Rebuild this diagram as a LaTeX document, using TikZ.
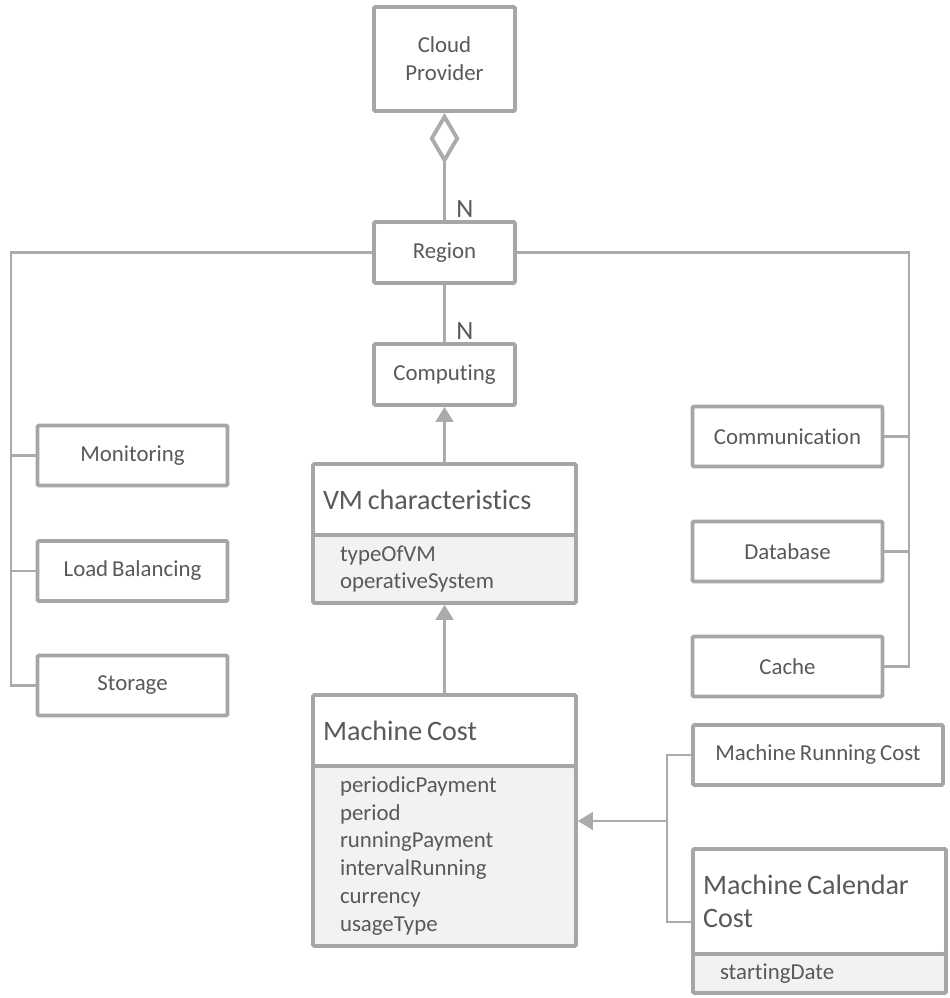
\documentclass[tikz,border=0pt]{standalone}
\usepackage{fontspec}
\setmainfont{Carlito}[Ligatures=NoCommon, WordSpace=0.75]
\usetikzlibrary{arrows.meta, positioning}
\definecolor{boxgray}{HTML}{A6A6A6}
\definecolor{linegray}{HTML}{ABABAB}
\definecolor{txtgray}{HTML}{595959}
\definecolor{attrfill}{HTML}{F2F2F2}
\tikzset{
  entity/.style={
    draw=boxgray,
    line width=2.2pt,
    rounded corners=0.8pt,
    fill=white,
    text=txtgray,
    align=center,
    font=\fontsize{13}{15.9}\selectfont,
    minimum height=1.22cm,
  },
  smallbox/.style={
    entity,
    minimum width=2.82cm
  },
  sidebox/.style={
    entity,
    minimum width=3.8cm,
    minimum height=1.2cm
  },
  classhead/.style={
    entity,
    outer sep=0pt,
    align=flush left,
    inner xsep=0.2cm,
    text width=#1,
    font=\fontsize{16}{19}\selectfont
  },
  classattr/.style={
    entity,
    outer sep=0pt,
    fill=attrfill,
    align=flush left,
    inner xsep=0.54cm,
    text width=#1
  },
  link/.style={
    draw=linegray,
    line width=1.5pt
  },
  isa/.style={
    link,
    -{Triangle[length=8.5pt, width=10pt]}
  },
  nlabel/.style={
    text=txtgray,
    font=\fontsize{15}{18}\selectfont,
    inner sep=1pt,
    anchor=south west,
    xshift=5pt
  }
}

\begin{document}
\begin{tikzpicture}[x=0.02cm, y=-0.02cm]
  \useasboundingbox (0,0) rectangle (950,998);

  % Centre
  \node[smallbox, minimum height=2.08cm] (cloud) at (444.5,59) {Cloud\\Provider};
  \node[smallbox] (region) at (444.5,252.5) {Region};
  \node[smallbox] (computing) at (444.5,374.5) {Computing};

  \node[classhead=4.86cm, minimum height=1.42cm] (vmc) at (444.5,499.5) {VM characteristics};
  \node[classattr=4.18cm, minimum height=1.36cm, below=0pt of vmc] (vmcattr) {typeOfVM\\operativeSystem};

  \node[classhead=4.86cm, minimum height=1.42cm] (mcost) at (444.5,730.5) {Machine Cost};
  \node[classattr=4.18cm, minimum height=3.6cm, below=0pt of mcost] (mcattr)
    {periodicPayment\\period\\runningPayment\\intervalRunning\\currency\\usageType};

  % Services a gauche
  \node[sidebox] (monitoring) at (132.5,455.5) {Monitoring};
  \node[sidebox] (loadbal) at (132.5,571) {Load Balancing};
  \node[sidebox] (storage) at (132.5,685.5) {Storage};

  % Services a droite
  \node[sidebox] (comm) at (787.5,436.5) {Communication};
  \node[sidebox] (database) at (787.5,551.5) {Database};
  \node[sidebox] (cache) at (787.5,666.5) {Cache};

  % Couts
  \node[entity, minimum width=5cm, minimum height=1.2cm] (mrun) at (818,755) {Machine Running Cost};
  \node[classhead=4.66cm, minimum height=2.1cm] (mcal) at (819.5,901.5) {Machine Calendar\\Cost};
  \node[classattr=3.98cm, minimum height=0.78cm, below=0pt of mcal] (mcalattr) {startingDate};

  \coordinate (lbus) at (11,0);
  \coordinate (rbus) at (909,0);
  \coordinate (mjoin) at (667,821);
  \coordinate (mcalrow) at (0,922);

  % Liens
  \draw[link, {Diamond[open, length=29pt, width=17pt, line width=2.2pt]}-] (cloud.south) -- node[nlabel, pos=1] {N} (region.north);
  \draw[link] (region.south) -- node[nlabel, pos=1] {N} (computing.north);
  \draw[isa] (vmc.north) -- (computing.south);
  \draw[isa, shorten >=1.1pt] (mcost.north) -- (vmcattr.south);

  \draw[link] (region.west) -- (region.west -| lbus) |- (storage.west);
  \draw[link] (monitoring.west) -- (monitoring.west -| lbus);
  \draw[link] (loadbal.west) -- (loadbal.west -| lbus);

  \draw[link] (region.east) -- (region.east -| rbus) |- (cache.east);
  \draw[link] (comm.east) -- (comm.east -| rbus);
  \draw[link] (database.east) -- (database.east -| rbus);

  \draw[link] (mrun.west) -| (mjoin) |- (mcal.west |- mcalrow);
  \draw[isa, shorten >=1.1pt] (mjoin) -- (mcattr.east |- mjoin);
\end{tikzpicture}
\end{document}
